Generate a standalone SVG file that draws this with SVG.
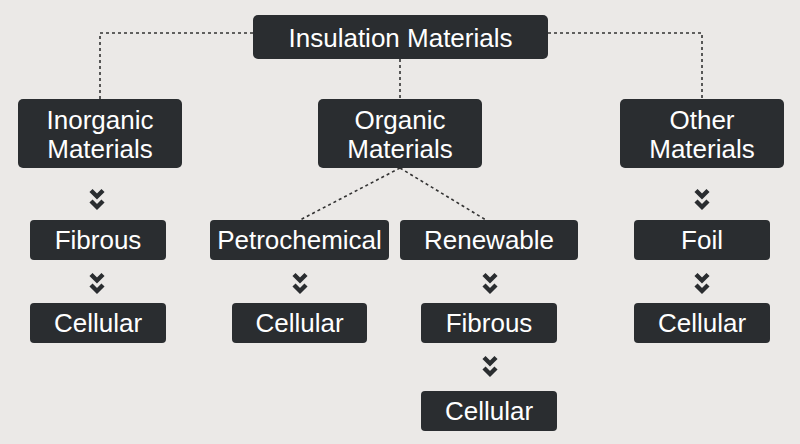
<svg xmlns="http://www.w3.org/2000/svg" width="800" height="444" viewBox="0 0 800 444">
<defs>
<style>
.box{fill:#2a2d30}
.t{font-family:"Liberation Sans",Arial,sans-serif;font-size:26px;fill:#ffffff;text-anchor:middle}
.dot{fill:none;stroke:#333333;stroke-width:1.6;stroke-dasharray:3 3}
.chev{fill:none;stroke:#2a2d30;stroke-width:4.4;stroke-linejoin:miter}
</style>
<g id="chevron">
<path class="chev" d="M-6,2.5 L0,8.5 L6,2.5 M-6,13 L0,19 L6,13"/>
</g>
</defs>
<rect width="800" height="444" fill="#ebe9e7"/>
<g id="connectors">
<path class="dot" d="M253,33 H100 V99"/>
<path class="dot" d="M548,33 H702 V99"/>
<path class="dot" d="M400,59 V99"/>
<path class="dot" d="M400,168 L300,220"/>
<path class="dot" d="M400,168 L486,220"/>
<use href="#chevron" x="97" y="188"/>
<use href="#chevron" x="97" y="272"/>
<use href="#chevron" x="300" y="272"/>
<use href="#chevron" x="490" y="272"/>
<use href="#chevron" x="490" y="355"/>
<use href="#chevron" x="702" y="188"/>
<use href="#chevron" x="702" y="272"/>
</g>
<g id="insulation"><rect class="box" x="253" y="15" width="295" height="44" rx="5"/><text class="t" x="400.5" y="46.5">Insulation Materials</text></g>
<g id="inorganic"><rect class="box" x="18" y="99" width="164" height="69" rx="5"/><text class="t" x="100" y="129">Inorganic</text><text class="t" x="100" y="158">Materials</text></g>
<g id="organic"><rect class="box" x="318" y="99" width="164" height="69" rx="5"/><text class="t" x="400" y="129">Organic</text><text class="t" x="400" y="158">Materials</text></g>
<g id="other"><rect class="box" x="620" y="99" width="164" height="69" rx="5"/><text class="t" x="702" y="129">Other</text><text class="t" x="702" y="158">Materials</text></g>
<g id="fibrous1"><rect class="box" x="30" y="220" width="136" height="40" rx="4"/><text class="t" x="98" y="249">Fibrous</text></g>
<g id="cellular1"><rect class="box" x="30" y="303" width="136" height="40" rx="4"/><text class="t" x="98" y="332">Cellular</text></g>
<g id="petrochemical"><rect class="box" x="210" y="220" width="179" height="40" rx="4"/><text class="t" x="299.5" y="249">Petrochemical</text></g>
<g id="cellular2"><rect class="box" x="232" y="303" width="135" height="40" rx="4"/><text class="t" x="299.5" y="332">Cellular</text></g>
<g id="renewable"><rect class="box" x="400" y="220" width="178" height="40" rx="4"/><text class="t" x="489" y="249">Renewable</text></g>
<g id="fibrous2"><rect class="box" x="421" y="303" width="136" height="40" rx="4"/><text class="t" x="489" y="332">Fibrous</text></g>
<g id="cellular3"><rect class="box" x="421" y="391" width="136" height="40" rx="4"/><text class="t" x="489" y="420">Cellular</text></g>
<g id="foil"><rect class="box" x="634" y="220" width="136" height="40" rx="4"/><text class="t" x="702" y="249">Foil</text></g>
<g id="cellular4"><rect class="box" x="634" y="303" width="136" height="40" rx="4"/><text class="t" x="702" y="332">Cellular</text></g>
</svg>
